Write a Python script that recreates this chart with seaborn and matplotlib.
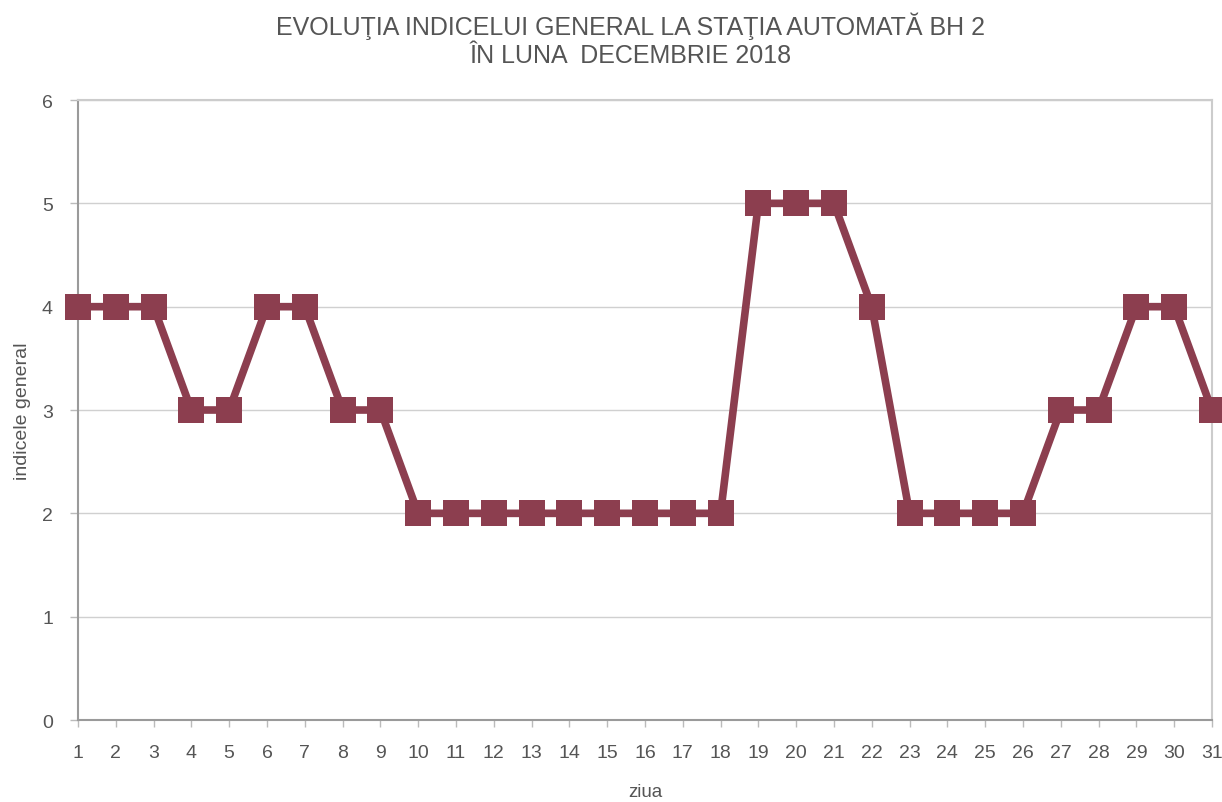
import numpy as np
import pandas as pd
import matplotlib
matplotlib.use('Agg')
import matplotlib.pyplot as plt
import seaborn as sns

# daily general index values, December 2018
days = list(range(1, 32))
index_values = [4, 4, 4, 3, 3, 4, 4, 3, 3, 2,
                2, 2, 2, 2, 2, 2, 2, 2, 5, 5,
                5, 4, 2, 2, 2, 2, 3, 3, 4, 4, 3]
y_ticks = [0, 1, 2, 3, 4, 5, 6]

df = pd.DataFrame({'ziua': days, 'indicele general': index_values})

sns.set_theme(style='white')
plt.rcParams['font.family'] = ['Liberation Sans', 'DejaVu Sans']

fig = plt.figure(figsize=(12.22, 8.03), dpi=100)
ax = fig.add_axes([0.0638, 0.1021, 0.9280, 0.7721])

line_color = '#8c3e4f'
sns.lineplot(data=df, x='ziua', y='indicele general', ax=ax,
             color=line_color, linewidth=5.5, marker='s', markersize=19,
             markeredgewidth=0, clip_on=False, zorder=3)

ax.set_xlim(1, 31)
ax.set_ylim(0, 6)
ax.set_xticks(days)
ax.set_yticks(y_ticks)
ax.yaxis.grid(True, color='#d0d0d0', linewidth=1)
ax.set_axisbelow(True)

text_color = '#555555'
for side in ['left', 'bottom']:
    ax.spines[side].set_color('#9a9a9a')
    ax.spines[side].set_linewidth(1.5)
for side in ['top', 'right']:
    ax.spines[side].set_color('#cccccc')
    ax.spines[side].set_linewidth(1.5)

ax.tick_params(axis='x', direction='out', length=5, width=1, color='#bbbbbb',
               labelsize=14, labelcolor=text_color, pad=12, bottom=True)
ax.tick_params(axis='y', direction='out', length=6, width=1, color='#bbbbbb',
               labelsize=14, labelcolor=text_color, pad=12, left=True)

ax.set_xlabel('ziua', fontsize=13.5, color=text_color, labelpad=16)
ax.set_ylabel('indicele general', fontsize=14, color=text_color, labelpad=8)

fig.suptitle('EVOLUŢIA INDICELUI GENERAL LA STAŢIA AUTOMATĂ BH 2\nÎN LUNA  DECEMBRIE 2018',
             x=0.516, y=0.985, fontsize=18, color=text_color, linespacing=1.22)

fig.savefig('out.png', dpi=100)
